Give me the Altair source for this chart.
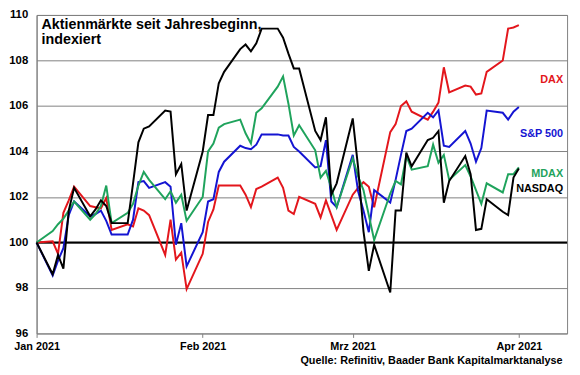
import altair as alt
import pandas as pd

dates = [
    "2021-01-01",
    "2021-01-04", "2021-01-05", "2021-01-06", "2021-01-07", "2021-01-08",
    "2021-01-11", "2021-01-12", "2021-01-13", "2021-01-14", "2021-01-15",
    "2021-01-18", "2021-01-19", "2021-01-20", "2021-01-21", "2021-01-22",
    "2021-01-25", "2021-01-26", "2021-01-27", "2021-01-28", "2021-01-29",
    "2021-02-01", "2021-02-02", "2021-02-03", "2021-02-04", "2021-02-05",
    "2021-02-08", "2021-02-09", "2021-02-10", "2021-02-11", "2021-02-12",
    "2021-02-15", "2021-02-16", "2021-02-17", "2021-02-18", "2021-02-19",
    "2021-02-22", "2021-02-23", "2021-02-24", "2021-02-25", "2021-02-26",
    "2021-03-01", "2021-03-02", "2021-03-03", "2021-03-04", "2021-03-05",
    "2021-03-08", "2021-03-09", "2021-03-10", "2021-03-11", "2021-03-12",
    "2021-03-15", "2021-03-16", "2021-03-17", "2021-03-18", "2021-03-19",
    "2021-03-22", "2021-03-23", "2021-03-24", "2021-03-25", "2021-03-26",
    "2021-03-29", "2021-03-30", "2021-03-31", "2021-04-01",
]

dax = [
    100,
    100.05, 99.5, 101.3, 101.85, 102.45,
    101.6, 101.55, 101.5, 101.95, 100.55,
    100.8, 100.7, 101.5, 101.4, 101.2,
    99.45, 101.0, 99.25, 99.55, 97.95,
    99.5, 100.9, 101.45, 102.5, 102.5,
    102.5, 102.1, 101.55, 102.35, 102.45,
    102.85, 102.4, 101.4, 101.25, 102.0,
    101.7, 101.1, 101.85, 101.2, 100.55,
    102.1, 102.4, 102.65, 102.45, 101.55,
    104.85, 105.2, 106.0, 106.2, 105.75,
    105.4, 105.75, 106.15, 107.7, 106.6,
    106.9, 106.85, 106.5, 106.55, 107.5,
    108.0, 109.4, 109.45, 109.55,
]

sp500 = [
    100,
    98.55, 99.2, 99.75, 101.2, 101.8,
    101.15, 101.25, 101.4, 100.95, 100.35,
    100.35, 101.0, 102.65, 102.7, 102.4,
    102.65, 102.45, 99.9, 100.85, 98.95,
    100.45, 101.8, 101.9, 103.1, 103.55,
    104.25, 104.15, 104.1, 104.3, 104.75,
    104.75, 104.7, 104.7, 104.2, 104.0,
    103.3, 103.35, 104.5, 101.8, 101.55,
    103.85, 102.25, 101.4, 100.45, 102.3,
    101.75, 102.75, 103.85, 104.9, 105.0,
    105.7, 105.5, 105.8, 104.25, 104.2,
    104.9, 104.35, 103.55, 104.15, 105.8,
    105.7, 105.4, 105.75, 105.95,
]

mdax = [
    100,
    100.5, 100.8, 101.05, 101.4, 101.8,
    101.0, 101.25, 101.6, 102.5, 100.85,
    101.3, 101.7, 102.5, 103.1, 102.75,
    101.9, 102.25, 101.75, 102.1, 100.95,
    102.0, 104.0, 104.35, 105.05, 105.2,
    105.4, 104.8, 104.35, 105.7, 105.9,
    106.85, 107.3, 106.1, 104.7, 105.15,
    104.05, 102.85, 103.15, 102.4, 101.55,
    103.7, 102.9, 102.3, 101.2, 100.1,
    102.15, 102.7, 102.55, 103.8, 103.2,
    103.35, 104.3, 103.5, 103.85, 102.75,
    103.4, 102.9, 102.3, 101.7, 102.6,
    102.2, 103.0, 103.0, 103.3,
]

nasdaq = [
    100,
    98.6, 99.45, 98.85, 101.4, 102.4,
    101.15, 101.45, 101.85, 101.6, 100.85,
    100.85, 102.6, 104.4, 105.0, 105.1,
    105.8, 105.75, 103.0, 103.45, 101.4,
    104.0, 105.6, 105.6, 107.0, 107.5,
    108.5, 108.7, 108.4, 108.75, 109.4,
    109.4, 109.0, 108.3, 107.65, 107.65,
    104.9, 104.5, 105.5, 102.1, 102.6,
    105.45, 103.3, 100.5, 98.75, 99.9,
    97.8, 101.4, 101.4, 103.95, 103.35,
    104.5, 104.6, 104.9, 101.75, 102.7,
    103.8, 103.0, 100.55, 100.6, 101.9,
    101.35, 101.2, 102.85, 103.25,
]

series_names = ["DAX", "S&P 500", "MDAX", "NASDAQ"]
series_colors = ["#E3161C", "#1414D2", "#1FA35C", "#000000"]
label_values = [107.13, 104.76, 103.0, 102.35]
y_ticks = [96, 98, 100, 102, 104, 106, 108, 110]
title_lines = ["Aktienmärkte seit Jahresbeginn,", "indexiert"]
source_text = "Quelle: Refinitiv, Baader Bank Kapitalmarktanalyse"

FONT = "Liberation Sans"

rows = []
for name, vals in zip(series_names, [dax, sp500, mdax, nasdaq]):
    for d, v in zip(dates, vals):
        rows.append({"date": d, "value": v, "series": name})
df = pd.DataFrame(rows)

labels_df = pd.DataFrame({
    "series": series_names,
    "value": label_values,
    "date": ["2021-04-10"] * 4,
})
base_df = pd.DataFrame({"base": [100]})
title_df = pd.DataFrame({"t": [0]})

x_domain = [alt.DateTime(year=2021, month=1, date=1, utc=True),
            alt.DateTime(year=2021, month=4, date=10, utc=True)]
x_ticks = [alt.DateTime(year=2021, month=m, date=1, utc=True) for m in [1, 2, 3, 4]]

x_scale = alt.Scale(type="utc", domain=x_domain)
y_scale = alt.Scale(domain=[96, 110], nice=False, zero=False)
color_scale = alt.Scale(domain=series_names, range=series_colors)

x_axis = alt.Axis(
    values=x_ticks,
    labelExpr="['Jan','Feb','Mrz','Apr'][utcmonth(datum.value)] + ' 2021'",
    grid=False, domain=False, ticks=True, tickSize=4, tickColor="#808080",
    labelFont=FONT, labelFontSize=11, labelFontWeight="bold", labelColor="#000000",
    labelPadding=3, labelAngle=0, labelFlush=False, labelOverlap=False,
    title=source_text, titleFont=FONT, titleFontSize=11, titleFontWeight="bold",
    titleColor="#000000", titleAnchor="end", titleAlign="right", titleX=533,
    titleY=27.5, titleBaseline="middle",
)
y_axis = alt.Axis(
    values=y_ticks, grid=True, gridColor="#808080", gridWidth=1,
    domain=True, domainColor="#808080", ticks=False,
    labelFont=FONT, labelFontSize=11.5, labelFontWeight="bold", labelColor="#000000",
    labelPadding=9, title=None,
)

lines = alt.Chart(df).mark_line(strokeWidth=2).encode(
    x=alt.X("date:T", scale=x_scale, axis=x_axis),
    y=alt.Y("value:Q", scale=y_scale, axis=y_axis),
    color=alt.Color("series:N", scale=color_scale, legend=None),
    order=alt.Order("date:T"),
)

base_rule = alt.Chart(base_df).mark_rule(color="#000000", strokeWidth=2).encode(
    y=alt.Y("base:Q", scale=y_scale),
)

labels = alt.Chart(labels_df).mark_text(
    align="right", baseline="middle", dx=-4, font=FONT, fontSize=11, fontWeight="bold"
).encode(
    x=alt.X("date:T", scale=x_scale),
    y=alt.Y("value:Q", scale=y_scale),
    text="series:N",
    color=alt.Color("series:N", scale=color_scale, legend=None),
)

title = alt.Chart(title_df).mark_text(
    align="left", baseline="top", font=FONT, fontSize=14.5, fontWeight="bold",
    color="#000000", lineHeight=15.5,
).encode(
    x=alt.value(5),
    y=alt.value(3),
    text=alt.value(title_lines),
)

chart = alt.layer(base_rule, lines, labels, title).properties(
    width=538,
    height=323,
    padding={"left": 29, "top": 4.5, "right": 5, "bottom": 34},
    autosize=alt.AutoSizeParams(type="none"),
    background="white",
).configure_view(stroke="#808080", strokeWidth=1)

chart.save("out.html", embed_options={"renderer": "svg", "actions": False})
